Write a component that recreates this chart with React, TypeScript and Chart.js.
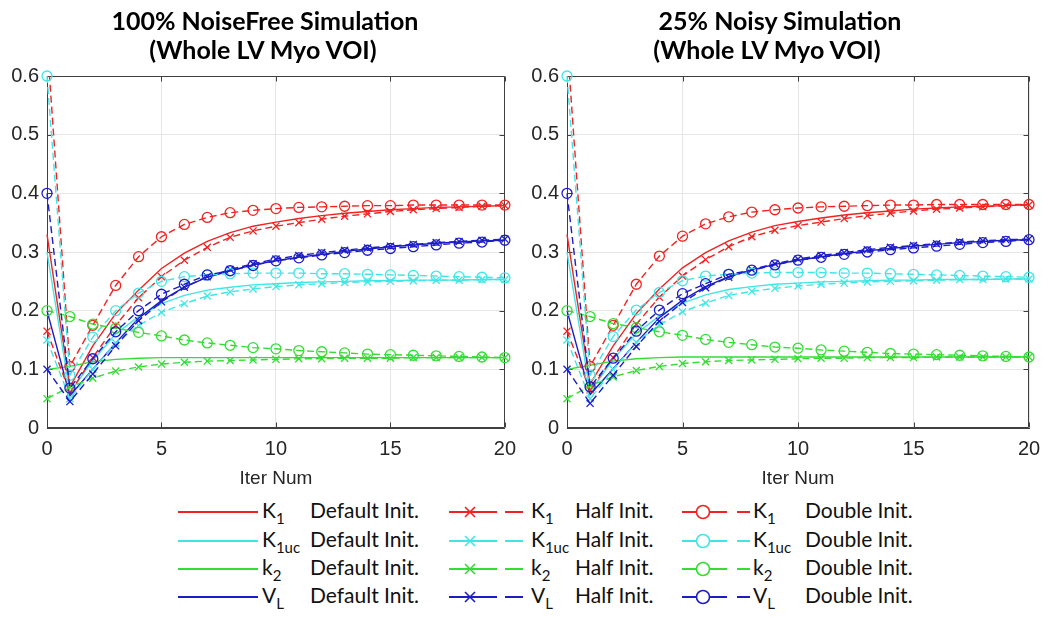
import React, { useEffect, useRef } from 'react';
import { Chart, registerables } from 'chart.js';
Chart.register(...registerables);

// ---------- data ----------
const iterations = [0, 1, 2, 3, 4, 5, 6, 7, 8, 9, 10, 11, 12, 13, 14, 15, 16, 17, 18, 19, 20];
const xTickValues = [0, 5, 10, 15, 20];
const yTickValues = [0, 0.1, 0.2, 0.3, 0.4, 0.5, 0.6];

const paramMain = ['K', 'K', 'k', 'V'];
const paramSub = ['1', '1uc', '2', 'L'];
const initNames = ['Default Init.', 'Half Init.', 'Double Init.'];
const paramColors = ['#f22222', '#40e6e6', '#33dd33', '#1c1cc8'];
const panelTitles = [
  ['100% NoiseFree Simulation', '(Whole LV Myo VOI)'],
  ['25% Noisy Simulation', '(Whole LV Myo VOI)'],
];
const xAxisTitle = 'Iter Num';

// Noise-free simulation
const nfK1Default = [0.33, 0.07, 0.14, 0.195, 0.235, 0.272, 0.298, 0.318, 0.333, 0.344, 0.351, 0.357, 0.362, 0.366, 0.369, 0.372, 0.374, 0.376, 0.377, 0.378, 0.379];
const nfK1Half = [0.165, 0.06, 0.12, 0.175, 0.222, 0.258, 0.286, 0.308, 0.325, 0.336, 0.344, 0.35, 0.356, 0.361, 0.365, 0.369, 0.372, 0.374, 0.376, 0.378, 0.379];
const nfK1Double = [0.66, 0.105, 0.175, 0.243, 0.292, 0.326, 0.347, 0.359, 0.367, 0.371, 0.374, 0.376, 0.377, 0.378, 0.379, 0.379, 0.38, 0.38, 0.38, 0.38, 0.38];
const nfK1ucDefault = [0.3, 0.06, 0.115, 0.16, 0.19, 0.212, 0.226, 0.235, 0.24, 0.244, 0.246, 0.248, 0.249, 0.25, 0.251, 0.251, 0.252, 0.252, 0.252, 0.253, 0.253];
const nfK1ucHalf = [0.15, 0.05, 0.1, 0.145, 0.175, 0.197, 0.212, 0.225, 0.232, 0.237, 0.241, 0.244, 0.246, 0.248, 0.249, 0.25, 0.251, 0.252, 0.252, 0.253, 0.253];
const nfK1ucDouble = [0.6, 0.09, 0.155, 0.2, 0.23, 0.25, 0.258, 0.261, 0.263, 0.264, 0.264, 0.264, 0.263, 0.263, 0.262, 0.261, 0.26, 0.259, 0.258, 0.257, 0.256];
const nfk2Default = [0.1, 0.105, 0.113, 0.117, 0.119, 0.12, 0.12, 0.12, 0.12, 0.12, 0.12, 0.12, 0.12, 0.12, 0.12, 0.12, 0.12, 0.12, 0.12, 0.12, 0.12];
const nfk2Half = [0.05, 0.07, 0.085, 0.097, 0.104, 0.109, 0.112, 0.114, 0.115, 0.116, 0.117, 0.118, 0.118, 0.119, 0.119, 0.119, 0.12, 0.12, 0.12, 0.12, 0.12];
const nfk2Double = [0.2, 0.19, 0.177, 0.17, 0.163, 0.157, 0.15, 0.145, 0.141, 0.137, 0.135, 0.132, 0.13, 0.128, 0.126, 0.125, 0.124, 0.123, 0.122, 0.121, 0.12];
const nfVLDefault = [0.2, 0.055, 0.1, 0.145, 0.187, 0.217, 0.24, 0.257, 0.268, 0.278, 0.285, 0.291, 0.296, 0.301, 0.305, 0.309, 0.312, 0.315, 0.317, 0.319, 0.32];
const nfVLHalf = [0.1, 0.045, 0.092, 0.14, 0.183, 0.215, 0.24, 0.258, 0.27, 0.28, 0.288, 0.294, 0.299, 0.303, 0.307, 0.31, 0.313, 0.316, 0.318, 0.32, 0.322];
const nfVLDouble = [0.4, 0.068, 0.118, 0.164, 0.2, 0.228, 0.245, 0.261, 0.268, 0.277, 0.285, 0.29, 0.295, 0.299, 0.303, 0.306, 0.309, 0.312, 0.315, 0.317, 0.32];

// 25% noisy simulation
const nsK1Default = [0.33, 0.075, 0.14, 0.195, 0.237, 0.273, 0.299, 0.319, 0.334, 0.345, 0.352, 0.358, 0.363, 0.367, 0.37, 0.373, 0.375, 0.377, 0.378, 0.379, 0.381];
const nsK1Half = [0.165, 0.065, 0.12, 0.177, 0.223, 0.259, 0.287, 0.309, 0.326, 0.337, 0.345, 0.351, 0.357, 0.362, 0.366, 0.37, 0.373, 0.375, 0.377, 0.379, 0.38];
const nsK1Double = [0.66, 0.105, 0.175, 0.245, 0.293, 0.327, 0.348, 0.36, 0.368, 0.372, 0.375, 0.377, 0.378, 0.379, 0.38, 0.38, 0.381, 0.381, 0.381, 0.381, 0.381];
const nsK1ucDefault = [0.3, 0.062, 0.117, 0.161, 0.191, 0.213, 0.227, 0.236, 0.241, 0.245, 0.247, 0.249, 0.25, 0.251, 0.252, 0.252, 0.253, 0.253, 0.253, 0.254, 0.254];
const nsK1ucHalf = [0.15, 0.05, 0.1, 0.146, 0.176, 0.198, 0.213, 0.226, 0.233, 0.238, 0.242, 0.245, 0.247, 0.249, 0.25, 0.251, 0.252, 0.253, 0.253, 0.254, 0.254];
const nsK1ucDouble = [0.6, 0.09, 0.156, 0.201, 0.231, 0.251, 0.259, 0.262, 0.264, 0.265, 0.265, 0.265, 0.264, 0.264, 0.263, 0.262, 0.261, 0.26, 0.259, 0.258, 0.257];
const nsk2Default = [0.1, 0.107, 0.114, 0.118, 0.12, 0.121, 0.121, 0.121, 0.121, 0.121, 0.121, 0.121, 0.121, 0.121, 0.121, 0.121, 0.121, 0.121, 0.121, 0.121, 0.121];
const nsk2Half = [0.05, 0.072, 0.087, 0.098, 0.105, 0.11, 0.113, 0.115, 0.116, 0.117, 0.118, 0.119, 0.119, 0.12, 0.12, 0.12, 0.121, 0.121, 0.121, 0.121, 0.121];
const nsk2Double = [0.2, 0.19, 0.178, 0.171, 0.164, 0.158, 0.151, 0.146, 0.142, 0.138, 0.136, 0.133, 0.131, 0.129, 0.127, 0.126, 0.125, 0.124, 0.123, 0.122, 0.121];
const nsVLDefault = [0.2, 0.057, 0.101, 0.146, 0.188, 0.218, 0.241, 0.258, 0.269, 0.279, 0.286, 0.292, 0.297, 0.302, 0.306, 0.31, 0.313, 0.316, 0.318, 0.32, 0.321];
const nsVLHalf = [0.1, 0.042, 0.09, 0.139, 0.182, 0.214, 0.239, 0.257, 0.27, 0.28, 0.288, 0.294, 0.299, 0.304, 0.308, 0.311, 0.314, 0.317, 0.319, 0.321, 0.322];
const nsVLDouble = [0.4, 0.07, 0.119, 0.165, 0.201, 0.229, 0.246, 0.262, 0.269, 0.278, 0.286, 0.291, 0.296, 0.3, 0.304, 0.307, 0.31, 0.313, 0.316, 0.318, 0.321];

const noiseFreeSeries = [
  [nfK1Default, nfK1Half, nfK1Double],
  [nfK1ucDefault, nfK1ucHalf, nfK1ucDouble],
  [nfk2Default, nfk2Half, nfk2Double],
  [nfVLDefault, nfVLHalf, nfVLDouble],
];
const noisySeries = [
  [nsK1Default, nsK1Half, nsK1Double],
  [nsK1ucDefault, nsK1ucHalf, nsK1ucDouble],
  [nsk2Default, nsk2Half, nsk2Double],
  [nsVLDefault, nsVLHalf, nsVLDouble],
];

// ---------- styling ----------
const TEXT = '#262626';
const AXIS = '#404040';
const GRID = '#e6e6e6';
const Y_MIN = 0;
const Y_MAX = 0.6;
const TICK_FONT = { family: '"Liberation Sans", Arial, sans-serif', size: 20 };

const boxPlugin = {
  id: 'matlabBox',
  beforeDatasetsDraw(chart: any) {
    const { ctx, chartArea } = chart;
    const l = Math.round(chartArea.left) + 0.5;
    const r = Math.round(chartArea.right) - 0.5;
    const t = Math.round(chartArea.top) + 0.5;
    const b = Math.round(chartArea.bottom) - 0.5;
    ctx.save();
    ctx.strokeStyle = AXIS;
    ctx.lineWidth = 1;
    ctx.beginPath();
    ctx.moveTo(l, t);
    ctx.lineTo(r, t);
    ctx.lineTo(r, b);
    ctx.lineTo(l, b);
    ctx.closePath();
    const xs = chart.scales.x;
    const ys = chart.scales.y;
    const tl = 5;
    xTickValues.forEach((v) => {
      const px = Math.round(xs.getPixelForValue(v)) + 0.5;
      ctx.moveTo(px, b);
      ctx.lineTo(px, b - tl);
      ctx.moveTo(px, t);
      ctx.lineTo(px, t + tl);
    });
    yTickValues.forEach((v) => {
      const py = Math.round(ys.getPixelForValue(v)) + 0.5;
      ctx.moveTo(l, py);
      ctx.lineTo(l + tl, py);
      ctx.moveTo(r, py);
      ctx.lineTo(r - tl, py);
    });
    ctx.stroke();
    ctx.restore();
  },
};

function buildDatasets(series: number[][][]) {
  const list: any[] = [];
  for (let init = 0; init < 3; init++) {
    for (let p = 0; p < 4; p++) {
      const values = series[p][init];
      const color = paramColors[p];
      const exceeds = values.some((v) => v > Y_MAX);
      list.push({
        label: paramMain[p] + paramSub[p] + ' ' + initNames[init],
        data: iterations.map((x, i) => ({ x, y: values[i] })),
        borderColor: color,
        borderWidth: 1.4,
        borderDash: init === 0 ? [] : [7, 4],
        pointStyle: init === 2 ? 'circle' : 'crossRot',
        pointRadius: (ctx: any) => {
          if (init === 0) return 0;
          const v = ctx.raw ? ctx.raw.y : 0;
          if (v > Y_MAX) return 0;
          return 5;
        },
        pointHoverRadius: 0,
        pointBorderColor: color,
        pointBackgroundColor: 'rgba(0,0,0,0)',
        pointBorderWidth: 1.3,
        tension: 0,
        fill: false,
        clip: { left: 10, right: 10, bottom: 10, top: exceeds ? 0 : 10 },
      });
    }
  }
  // later MATLAB plots sit on top: Chart.js draws dataset 0 last
  return list.reverse();
}

function Panel(props: { series: number[][][]; left: number; width: number; yAxisWidth: number; padRight: number }) {
  const ref = useRef<HTMLCanvasElement | null>(null);
  useEffect(() => {
    if (!ref.current) return;
    const chart = new Chart(ref.current, {
      type: 'line',
      data: { datasets: buildDatasets(props.series) },
      options: {
        animation: false,
        responsive: false,
        maintainAspectRatio: false,
        events: [],
        layout: { padding: { top: 76, right: props.padRight, left: 0, bottom: 0 } },
        plugins: { legend: { display: false }, title: { display: false }, tooltip: { enabled: false } },
        scales: {
          x: {
            type: 'linear',
            min: 0,
            max: 20,
            afterBuildTicks: (s: any) => {
              s.ticks = xTickValues.map((v) => ({ value: v }));
            },
            ticks: { font: TICK_FONT, color: TEXT, padding: 9, maxRotation: 0, callback: (v: any) => String(v) },
            grid: { color: GRID, drawTicks: false, lineWidth: 1 },
            border: { display: true, color: AXIS, width: 1 },
            title: {
              display: true,
              text: xAxisTitle,
              font: { family: '"Liberation Sans", Arial, sans-serif', size: 19 },
              color: TEXT,
              padding: { top: 0, bottom: 0 },
            },
            afterFit: (s: any) => {
              s.height = 62;
            },
          },
          y: {
            type: 'linear',
            min: Y_MIN,
            max: Y_MAX,
            afterBuildTicks: (s: any) => {
              s.ticks = yTickValues.map((v) => ({ value: v }));
            },
            ticks: {
              font: TICK_FONT,
              color: TEXT,
              padding: 8,
              callback: (v: any) => {
                const n = Math.round(Number(v) * 10) / 10;
                return n === 0 ? '0' : String(n);
              },
            },
            grid: { color: GRID, drawTicks: false, lineWidth: 1 },
            border: { display: true, color: AXIS, width: 1 },
            afterFit: (s: any) => {
              s.width = props.yAxisWidth;
            },
          },
        },
      },
      plugins: [boxPlugin],
    } as any);
    return () => chart.destroy();
  }, []);
  return (
    <canvas
      ref={ref}
      width={props.width}
      height={490}
      style={{ position: 'absolute', left: props.left, top: 0, width: props.width, height: 490 }}
    />
  );
}

// legend geometry
const legendRowsY = [512, 541, 569, 597];
const legendCols = [
  { start: 178, end: 258, marker: -1, dash: '', label: 262, init: 310 },
  { start: 449, end: 523, marker: 470, dash: '48 8 18', label: 531, init: 575 },
  { start: 682, end: 750, marker: 703, dash: '45 10 13', label: 753, init: 805 },
];

function LegendSample(props: { col: number; color: string; y: number }) {
  const c = legendCols[props.col];
  const w = c.end - c.start;
  const m = c.marker - c.start;
  return (
    <svg
      width={w + 16}
      height={20}
      style={{ position: 'absolute', left: c.start - 8, top: props.y - 10, overflow: 'visible' }}
    >
      <line
        x1={8}
        y1={10}
        x2={8 + w}
        y2={10}
        stroke={props.color}
        strokeWidth={2}
        strokeDasharray={c.dash || undefined}
      />
      {props.col === 1 && (
        <g stroke={props.color} strokeWidth={1.6}>
          <line x1={8 + m - 5} y1={5} x2={8 + m + 5} y2={15} />
          <line x1={8 + m - 5} y1={15} x2={8 + m + 5} y2={5} />
        </g>
      )}
      {props.col === 2 && <circle cx={8 + m} cy={10} r={6.5} fill="#ffffff" stroke={props.color} strokeWidth={1.6} />}
    </svg>
  );
}

const legendFont = 'Lato, "Open Sans", sans-serif';

function Legend() {
  const items: any[] = [];
  for (let col = 0; col < 3; col++) {
    for (let p = 0; p < 4; p++) {
      const y = legendRowsY[p];
      const c = legendCols[col];
      items.push(<LegendSample key={'s' + col + p} col={col} color={paramColors[p]} y={y} />);
      items.push(
        <div
          key={'p' + col + p}
          style={{
            position: 'absolute',
            left: c.label,
            top: y - 14,
            fontFamily: legendFont,
            fontSize: 21,
            lineHeight: '24px',
            color: '#111',
            whiteSpace: 'nowrap',
          }}
        >
          {paramMain[p]}
          <span style={{ fontSize: 15, position: 'relative', top: 6 }}>{paramSub[p]}</span>
        </div>
      );
      items.push(
        <div
          key={'i' + col + p}
          style={{
            position: 'absolute',
            left: c.init,
            top: y - 14,
            fontFamily: legendFont,
            fontSize: 21,
            lineHeight: '24px',
            color: '#111',
            whiteSpace: 'nowrap',
          }}
        >
          {initNames[col]}
        </div>
      );
    }
  }
  return <>{items}</>;
}

const titleCenters = [
  [265, 263],
  [780, 767],
];
const titleLineY = [20, 49];

function Titles() {
  const out: any[] = [];
  panelTitles.forEach((lines, i) => {
    lines.forEach((text, j) => {
      out.push(
        <div
          key={'t' + i + j}
          style={{
            position: 'absolute',
            left: titleCenters[i][j] - 250,
            width: 500,
            top: titleLineY[j] - 16,
            height: 32,
            lineHeight: '32px',
            textAlign: 'center',
            fontFamily: 'Lato, "Open Sans", sans-serif',
            fontWeight: 700,
            fontSize: 25,
            color: '#000',
            whiteSpace: 'nowrap',
          }}
        >
          {text}
        </div>
      );
    });
  });
  return <>{out}</>;
}

export default function App() {
  return (
    <div
      style={{
        position: 'absolute',
        left: 0,
        top: 0,
        width: 1050,
        height: 618,
        background: '#ffffff',
        overflow: 'hidden',
      }}
    >
      <Panel series={noiseFreeSeries} left={0} width={525} yAxisWidth={47} padRight={17} />
      <Panel series={noisySeries} left={525} width={525} yAxisWidth={42} padRight={21} />
      <Titles />
      <Legend />
    </div>
  );
}
